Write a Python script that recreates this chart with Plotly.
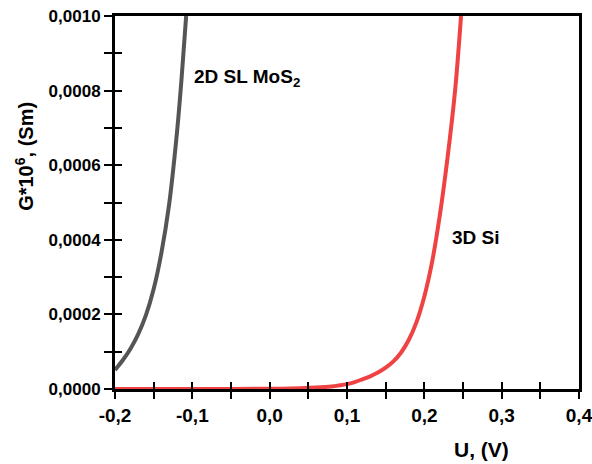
import plotly.graph_objects as go

# --- data ---
u_mos2 = [-0.200, -0.190, -0.180, -0.170, -0.160, -0.150, -0.140, -0.130, -0.120, -0.114, -0.108]
g_mos2 = [5.1e-5, 7.7e-5, 1.08e-4, 1.47e-4, 1.98e-4, 2.68e-4, 3.65e-4, 4.95e-4, 6.85e-4, 8.3e-4, 1.0e-3]

u_si = [-0.20, -0.10, 0.00, 0.04, 0.06, 0.08, 0.10, 0.11, 0.12, 0.13, 0.14, 0.15, 0.16, 0.17, 0.18,
        0.19, 0.20, 0.21, 0.22, 0.23, 0.24, 0.2475]
g_si = [0.0, 0.0, 6e-7, 2e-6, 3.8e-6, 7e-6, 1.3e-5, 1.85e-5, 2.6e-5, 3.4e-5, 4.4e-5, 5.7e-5, 7.4e-5,
        9.8e-5, 1.32e-4, 1.8e-4, 2.48e-4, 3.4e-4, 4.65e-4, 6.2e-4, 8.05e-4, 1.0e-3]

x_range = [-0.2, 0.40001]
y_range = [0.0, 0.001]
x_tickvals = [-0.2, -0.1, 0.0, 0.1, 0.2, 0.3, 0.4]
x_ticktext = ["-0,2", "-0,1", "0,0", "0,1", "0,2", "0,3", "0,4"]

label_mos2 = "2D SL MoS<sub>2</sub>"
label_si = "3D Si"
x_title = "U, (V)"
y_title = "G*10<sup>6</sup>, (Sm)"

FONT = "Liberation Sans, Arial, sans-serif"

fig = go.Figure()
fig.add_trace(go.Scatter(x=u_si, y=g_si, mode="lines",
                         line=dict(color="#EF4242", width=4, shape="spline", smoothing=0.8),
                         showlegend=False, hoverinfo="skip"))
fig.add_trace(go.Scatter(x=u_mos2, y=g_mos2, mode="lines",
                         line=dict(color="#555555", width=4, shape="spline", smoothing=0.8),
                         showlegend=False, hoverinfo="skip"))
# dummy trace for overlay tick axes (inside half of the crossing ticks)
fig.add_trace(go.Scatter(x=[None], y=[None], xaxis="x2", yaxis="y2", showlegend=False, hoverinfo="skip"))

fig.update_layout(
    width=592, height=464,
    margin=dict(l=115, r=13, t=16, b=75, autoexpand=False),
    paper_bgcolor="white", plot_bgcolor="white",
    separators=", ",
    font=dict(family=FONT, color="black"),
    xaxis=dict(
        range=x_range, tickvals=x_tickvals, ticktext=x_ticktext,
        ticks="outside", ticklen=7, tickwidth=2, tickcolor="black",
        minor=dict(dtick=0.05, tick0=-0.2, ticks="outside", ticklen=7, tickwidth=2, tickcolor="black"),
        showline=True, linewidth=3, linecolor="black", mirror=True,
        showgrid=False, zeroline=False, layer="below traces", automargin=False,
        ticklabeloverflow="allow",
        tickfont=dict(family=FONT, size=19, color="black", weight="bold"),
    ),
    yaxis=dict(
        range=y_range, dtick=0.0002, tick0=0, tickformat=".4f",
        ticks="outside", ticklen=8, tickwidth=2, tickcolor="black",
        minor=dict(dtick=0.0001, ticks="outside", ticklen=8, tickwidth=2, tickcolor="black"),
        showline=True, linewidth=3, linecolor="black", mirror=True,
        showgrid=False, zeroline=False, layer="below traces", automargin=False,
        ticklabeloverflow="allow",
        tickfont=dict(family=FONT, size=17, color="black", weight="bold"),
    ),
    xaxis2=dict(
        overlaying="x", anchor="y", range=x_range, dtick=0.05, tick0=-0.2,
        ticks="inside", ticklen=7, tickwidth=2, tickcolor="black",
        showticklabels=False, showline=False, showgrid=False, zeroline=False,
    ),
    yaxis2=dict(
        overlaying="y", anchor="x", side="left", range=y_range, dtick=0.0001, tick0=0,
        ticks="inside", ticklen=7, tickwidth=2, tickcolor="black",
        showticklabels=False, showline=False, showgrid=False, zeroline=False,
    ),
)

fig.add_annotation(x=-0.1005, y=0.000833, xref="x", yref="y", text=label_mos2, showarrow=False,
                   xanchor="left", yanchor="middle",
                   font=dict(family=FONT, size=19, color="black", weight="bold"))
fig.add_annotation(x=0.2334, y=0.000405, xref="x", yref="y", text=label_si, showarrow=False,
                   xanchor="left", yanchor="middle",
                   font=dict(family=FONT, size=19, color="black", weight="bold"))
fig.add_annotation(x=0.79, y=-0.161, xref="paper", yref="paper", text=x_title, showarrow=False,
                   xanchor="center", yanchor="middle",
                   font=dict(family=FONT, size=21, color="black", weight="bold"))
fig.add_annotation(x=-0.194, y=0.625, xref="paper", yref="paper", text=y_title, showarrow=False,
                   textangle=-90, xanchor="center", yanchor="middle",
                   font=dict(family=FONT, size=20, color="black", weight="bold"))

fig.write_html("out.html")
